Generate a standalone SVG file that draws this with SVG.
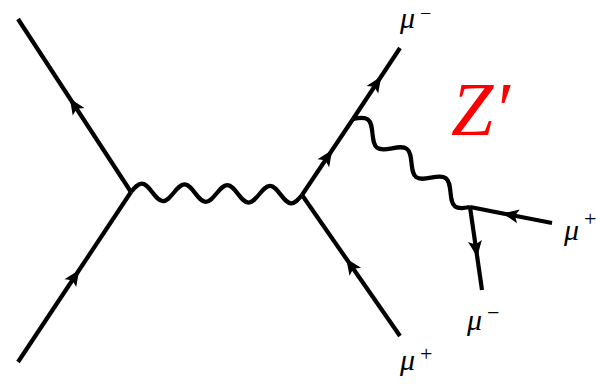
<svg xmlns="http://www.w3.org/2000/svg" width="596" height="384" viewBox="0 0 596 384">
<style>
.f{fill:none;stroke:#000;stroke-width:4.2;stroke-linecap:butt;stroke-linejoin:round;marker-mid:url(#arr)}
.ph{fill:none;stroke:#000;stroke-width:4.2;stroke-linecap:butt;stroke-linejoin:round}
.lab{font-family:"Liberation Serif","DejaVu Serif",serif;font-style:italic;fill:#000}
.sup{font-family:"Liberation Serif","DejaVu Serif",serif;fill:#000}
</style>
<defs>
<marker id="arr" viewBox="-9 -8 18 16" markerWidth="18" markerHeight="16" markerUnits="userSpaceOnUse" orient="auto" refX="0" refY="0" overflow="visible">
<path d="M8.5,0 L-7.5,-7 L-4,0 L-7.5,7 Z" fill="#000"/>
</marker>
</defs>
<g id="connectors">
<polyline class="f" points="131,192 74.5,105.5 18,19"/>
<polyline class="f" points="18,362 74.5,277 131,192"/>
<polyline class="f" points="302,195 327.5,157 353,119"/>
<polyline class="f" points="353,119 376.5,83.5 400,48"/>
<polyline class="f" points="400,336 351,265.5 302,195"/>
<polyline class="f" points="552,223 511,215 470,207"/>
<polyline class="f" points="470,207 476,248.5 482,290"/>
<path class="ph" transform="translate(131,192) rotate(1.005)" d="M0,0
c 3.486,-4.355 6.821,-8.5 10.69,-8.5 c 3.869,0 7.204,4.145 10.69,8.5 c 3.486,4.355 6.821,8.5 10.69,8.5 c 3.869,0 7.204,-4.145 10.69,-8.5
c 3.486,-4.355 6.821,-8.5 10.69,-8.5 c 3.869,0 7.204,4.145 10.69,8.5 c 3.486,4.355 6.821,8.5 10.69,8.5 c 3.869,0 7.204,-4.145 10.69,-8.5
c 3.486,-4.355 6.821,-8.5 10.69,-8.5 c 3.869,0 7.204,4.145 10.69,8.5 c 3.486,4.355 6.821,8.5 10.69,8.5 c 3.869,0 7.204,-4.145 10.69,-8.5
c 3.486,-4.355 6.821,-8.5 10.69,-8.5 c 3.869,0 7.204,4.145 10.69,8.5 c 3.486,4.355 6.821,8.5 10.69,8.5 c 3.869,0 7.204,-4.145 10.69,-8.5"/>
<path class="ph" transform="translate(353,119) rotate(36.95)" d="M0,0
c 3.978,-4.355 7.785,-8.5 12.2,-8.5 c 4.415,0 8.222,4.145 12.2,8.5 c 3.978,4.355 7.785,8.5 12.2,8.5 c 4.415,0 8.222,-4.145 12.2,-8.5
c 3.978,-4.355 7.785,-8.5 12.2,-8.5 c 4.415,0 8.222,4.145 12.2,8.5 c 3.978,4.355 7.785,8.5 12.2,8.5 c 4.415,0 8.222,-4.145 12.2,-8.5
c 3.978,-4.355 7.785,-8.5 12.2,-8.5 c 4.415,0 8.222,4.145 12.2,8.5 c 3.978,4.355 7.785,8.5 12.2,8.5 c 4.415,0 8.222,-4.145 12.2,-8.5"/>
</g>
<g id="mu-minus-top">
<text class="lab" x="400" y="28" font-size="30">μ</text>
<text class="sup" x="420" y="20" font-size="20">−</text>
</g>
<g id="zprime">
<text class="lab" x="451" y="135" font-size="76" style="fill:#ff0000">Z′</text>
</g>
<g id="mu-plus-right">
<text class="lab" x="564" y="240" font-size="30">μ</text>
<text class="sup" x="584" y="226" font-size="22">+</text>
</g>
<g id="mu-minus-bottom">
<text class="lab" x="467" y="330" font-size="30">μ</text>
<text class="sup" x="487" y="320" font-size="22">−</text>
</g>
<g id="mu-plus-bottom">
<text class="lab" x="400" y="370" font-size="30">μ</text>
<text class="sup" x="420" y="361" font-size="22">+</text>
</g>
</svg>
